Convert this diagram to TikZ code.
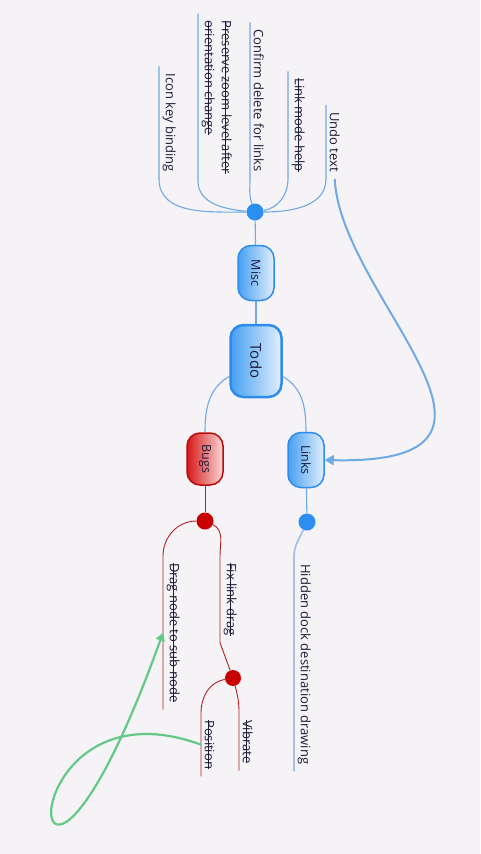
\documentclass[tikz,border=0pt]{standalone}
\usepackage{fontspec}
\setmainfont{Open Sans}
\usetikzlibrary{arrows.meta,calc}

\newsavebox\strkbox
\newcommand\strk[1]{\sbox\strkbox{#1}\rlap{\rule[0.28em]{\wd\strkbox}{0.7pt}}\usebox\strkbox}

\definecolor{bgcol}{RGB}{246,243,246}
\definecolor{txtcol}{RGB}{28,28,58}
\definecolor{bluedot}{RGB}{43,142,240}
\definecolor{blueline}{RGB}{112,170,228}
\definecolor{blueedge}{RGB}{45,140,235}
\definecolor{bluedark}{RGB}{70,160,242}
\definecolor{bluelight}{RGB}{226,238,252}
\definecolor{paleblue}{RGB}{160,195,230}
\definecolor{redline}{RGB}{178,34,34}
\definecolor{reddot}{RGB}{200,0,0}
\definecolor{rededge}{RGB}{185,10,10}
\definecolor{reddark}{RGB}{215,25,25}
\definecolor{redlight}{RGB}{250,215,215}
\definecolor{greenline}{RGB}{100,200,135}

\begin{document}
\begin{tikzpicture}[x=1pt,y=1pt]

\tikzstyle{topic}=[rotate=-90, draw=blueedge, line width=1.5pt, rounded corners=13pt, left color=bluedark, right color=bluelight, text=txtcol, font=\fontsize{12.5}{14}\selectfont, minimum width=55pt, minimum height=36pt, inner sep=0pt]
\tikzstyle{central}=[topic, line width=2.5pt, minimum width=72pt, minimum height=51pt, font=\fontsize{15}{17}\selectfont]
\tikzstyle{bugtopic}=[topic, draw=rededge, left color=reddark, right color=redlight]
\tikzstyle{dot}=[circle, fill=bluedot, minimum size=17pt, inner sep=0pt]
\tikzstyle{reddot}=[dot, fill=reddot]
\tikzstyle{leaf}=[rotate=-90, text=txtcol, font=\fontsize{13}{17}\selectfont, inner xsep=7pt, inner ysep=3.5pt]
\tikzstyle{bline}=[blueline, line width=1.1pt]
\tikzstyle{rline}=[redline, line width=0.9pt]
\tikzstyle{arrow}=[-{Triangle[width=10pt,length=9pt]}, blueline, line width=2pt]

\path[use as bounding box, fill=bgcol] (0,0) rectangle (480,-854);

\node [central] (todo) at (256,-361) {Todo};
\node [topic] (misc) at (256,-273) {Misc};
\node [topic] (links) at (306,-460) {Links};
\node [bugtopic, minimum width=52pt] (bugs) at (205,-459) {Bugs};

\node [dot] (misc_dot) at (255,-212) {};
\node [dot] (links_dot) at (307,-522) {};
\node [reddot] (bugs_dot) at (205,-521) {};
\node [reddot, minimum size=16pt] (fix_dot) at (233,-678) {};

% misc items
\node [leaf, anchor=south east] (misc1) at (159,-179) {Icon key binding};
\node [leaf, anchor=south east, align=left] (misc2) at (198,-181) {\strk{Preserve zoom level after}\\\strk{orientation change}};
\node [leaf, anchor=south east] (misc3) at (250,-179) {Confirm delete for links};
\node [leaf, anchor=south east] (misc4) at (288,-179) {\strk{Link mode help}};
\node [leaf, anchor=south east] (misc5) at (326,-179) {Undo text};

% links and bugs items
\node [leaf, anchor=south west] (link1) at (294,-557) {Hidden dock destination drawing};
\node [leaf, anchor=south west] (bug1) at (163,-556) {\strk{Drag node to sub node}};
\node [leaf, anchor=south west] (bug2) at (220,-556) {\strk{Fix link drag}};
\node [leaf, anchor=south west] (fix1) at (239,-713) {\strk{Vibrate}};
\node [leaf, anchor=south west] (fix2) at (201,-713) {\strk{Position}};

\draw[bline] (todo) -- (misc);
\draw[bline] (misc) -- (misc_dot);
\draw[bline] (todo.60) to[out=-30,in=90] (links.west);
\draw[bline] (todo.-60) to[out=-150,in=90] (bugs.west);
\draw[bline] (links) -- (links_dot);
\draw[rline] (bugs) -- (bugs_dot);

\draw[bline] (misc1.south west) -- (misc1.south east) to[out=-90,in=180] (misc_dot);
\draw[bline] (misc2.south west) -- (misc2.south east) to[out=-90,in=175] (misc_dot);
\draw[bline] (misc3.south west) -- (misc3.south east) to[out=-90,in=110] (misc_dot);
\draw[bline] (misc4.south west) -- (misc4.south east) to[out=-90,in=10] (misc_dot);
\draw[bline] (misc5.south west) -- (misc5.south east) to[out=-90,in=0] (misc_dot);

\draw[paleblue, line width=1.8pt] (links_dot) to[out=-115,in=90] (link1.south west) -- (link1.south east);
\draw[rline] (bugs_dot) to[out=180,in=90] (bug1.south west) -- (bug1.south east);
\draw[rline] (bugs_dot) to[out=-25,in=90] (bug2.south west) -- (bug2.south east) -- (fix_dot);
\draw[rline] (fix_dot) to[out=-75,in=90] (fix1.south west) -- (fix1.south east);
\draw[rline] (fix_dot) to[out=190,in=90] (fix2.south west) -- (fix2.south east);

\draw[arrow] (misc5.east) .. controls +(6,-120) and +(233,-5) .. (links.north);
\draw[arrow, greenline, line width=2.2pt, -{Triangle[width=9pt,length=8pt]}] ($(fix2.south west)!0.5!(fix2.south east)$) .. controls +(-205,75) and +(-143,-397) .. ($(bug1.south west)!0.5!(bug1.south east)$);

\end{tikzpicture}
\end{document}
